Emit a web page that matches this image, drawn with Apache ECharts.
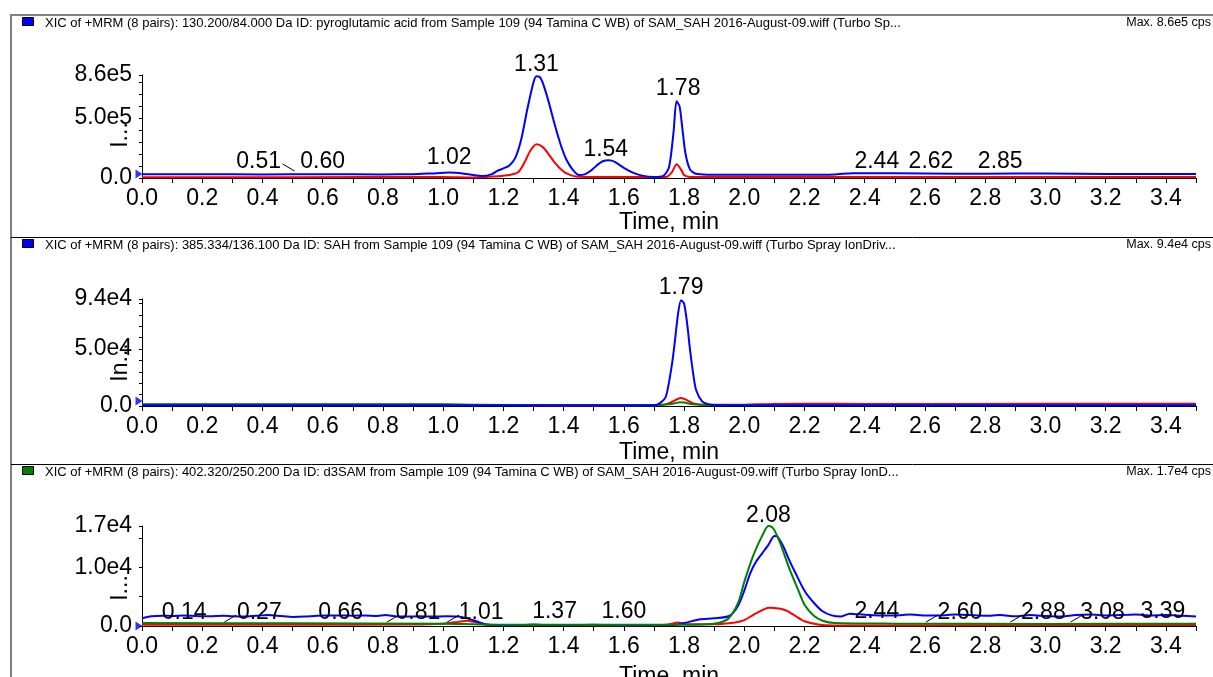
<!DOCTYPE html>
<html><head><meta charset="utf-8">
<script src="https://cdn.jsdelivr.net/npm/echarts@6/dist/echarts.min.js"></script>
<style>html,body{margin:0;padding:0;background:#fff}#c{width:1213px;height:677px}</style>
</head><body><div id="c"></div>
<script>
// ================= DATA =================
const headerTexts = [
  'XIC of +MRM (8 pairs): 130.200/84.000 Da ID: pyroglutamic acid from Sample 109 (94 Tamina C WB) of SAM_SAH 2016-August-09.wiff (Turbo Sp...',
  'XIC of +MRM (8 pairs): 385.334/136.100 Da ID: SAH from Sample 109 (94 Tamina C WB) of SAM_SAH 2016-August-09.wiff (Turbo Spray IonDriv...',
  'XIC of +MRM (8 pairs): 402.320/250.200 Da ID: d3SAM from Sample 109 (94 Tamina C WB) of SAM_SAH 2016-August-09.wiff (Turbo Spray IonD...'
];
const maxTexts = ['Max. 8.6e5 cps', 'Max. 9.4e4 cps', 'Max. 1.7e4 cps'];
const xAxisName = 'Time, min';
const yAxisNames = ['I...', 'In...', 'I...'];
const yMax = [8.6e5, 9.4e4, 1.7e4];
const yTickStep = [1e5, 1e4, 5e3];
const yTickLabelValues = [[0, 5e5, 8.6e5], [0, 5e4, 9.4e4], [0, 1e4, 1.7e4]];
const yTickLabelTexts = [['0.0', '5.0e5', '8.6e5'], ['0.0', '5.0e4', '9.4e4'], ['0.0', '1.0e4', '1.7e4']];
const baselineMarkerLevel = [33000, 4500, 0];

// Panel 1: pyroglutamic acid
const p1BlueT = [0,0.2,0.4,0.6,0.8,0.9,0.96,1.02,1.06,1.10,1.13,1.16,1.18,1.20,1.22,1.24,1.26,1.28,1.30,1.31,1.32,1.33,1.35,1.37,1.39,1.41,1.43,1.45,1.47,1.49,1.51,1.53,1.55,1.57,1.60,1.63,1.66,1.70,1.73,1.75,1.765,1.775,1.785,1.795,1.805,1.82,1.84,1.88,2.0,2.2,2.3,2.36,2.5,2.7,2.9,3.1,3.3,3.5];
const p1BlueV = [32000,32000,30000,31000,30000,32000,38000,45000,40000,25000,17000,30000,60000,80000,105000,170000,330000,580000,800000,850000,845000,800000,640000,450000,280000,150000,70000,25000,30000,60000,105000,140000,148000,135000,85000,45000,20000,8000,15000,90000,380000,640000,600000,400000,200000,70000,35000,28000,27000,27000,30000,40000,40000,36000,37000,36000,33000,34000];
const p1RedT = [0,0.5,1.0,1.1,1.18,1.22,1.25,1.27,1.29,1.31,1.33,1.35,1.37,1.39,1.41,1.44,1.5,1.6,1.74,1.76,1.775,1.79,1.80,1.82,2.0,3.5];
const p1RedV = [7000,7000,9000,5000,15000,25000,50000,130000,230000,282000,260000,200000,130000,75000,38000,12000,8000,8000,8000,50000,115000,70000,25000,9000,8000,8000];
const p1PeakT = [0.51,0.60,1.02,1.31,1.54,1.78,2.44,2.62,2.85];
const p1PeakLabelLevel = [133600,133600,167000,950000,234000,745000,133600,133600,133600];

// Panel 2: SAH
const p2BlueT = [0,0.5,1.0,1.2,1.5,1.70,1.72,1.74,1.76,1.77,1.78,1.79,1.80,1.81,1.82,1.83,1.84,1.86,1.88,1.9,2.0,2.5,3.0,3.5];
const p2BlueV = [700,700,700,600,600,700,2500,8500,37000,58000,81000,93000,90000,73000,49000,29000,14000,4000,1500,900,700,600,600,600];
const p2RedT = [0,0.5,1.0,1.2,1.5,1.72,1.75,1.79,1.83,1.86,2.0,2.1,2.3,2.5,3.0,3.5];
const p2RedV = [1000,1000,1000,800,700,800,2500,7000,2500,1000,1200,1800,1900,1800,1900,2000];
const p2GreenT = [0,0.5,1.0,1.2,1.5,1.7,1.75,1.79,1.83,1.88,2.0,3.5];
const p2GreenV = [1600,1600,1500,800,700,700,1500,3200,1500,800,900,900];
const p2PeakT = [1.79];
const p2PeakLabelLevel = [104000];

// Panel 3: d3SAM
const p3BlueT = [0,0.03,0.07,0.10,0.14,0.18,0.22,0.27,0.30,0.34,0.38,0.42,0.46,0.50,0.54,0.58,0.62,0.66,0.70,0.74,0.78,0.81,0.84,0.88,0.92,0.96,1.01,1.05,1.08,1.11,1.14,1.18,1.25,1.30,1.35,1.40,1.50,1.60,1.70,1.76,1.80,1.85,1.90,1.95,1.98,2.00,2.02,2.04,2.06,2.08,2.10,2.11,2.13,2.15,2.17,2.20,2.23,2.26,2.29,2.32,2.35,2.40,2.45,2.50,2.55,2.60,2.65,2.70,2.75,2.80,2.85,2.90,2.95,3.00,3.05,3.10,3.15,3.20,3.25,3.30,3.35,3.40,3.45,3.50];
const p3BlueV = [1300,1650,1750,1700,1800,1700,1650,1750,1650,1600,1750,1850,1700,1550,1600,1750,1800,1800,1750,1800,1700,1850,1650,1600,1650,1600,1650,1600,1300,800,300,100,100,250,150,100,200,100,150,150,500,1100,1300,1700,3500,6000,9000,11000,12400,13800,15300,15200,13500,11100,9000,6000,4000,2500,1800,1600,2100,1900,1800,1800,1950,1800,1800,1950,1850,1750,1850,1650,1850,1700,1600,1850,1950,1800,1850,1950,1800,1850,1750,1600];
const p3GreenT = [0,0.5,1.0,1.1,1.2,1.5,1.8,1.88,1.92,1.95,1.98,2.00,2.03,2.06,2.08,2.09,2.10,2.12,2.15,2.18,2.20,2.23,2.26,2.30,2.5,3.0,3.5];
const p3GreenV = [500,450,400,300,200,200,200,300,600,1400,4000,7500,12000,15400,17000,16900,16300,14000,9700,6000,3600,1800,900,500,400,350,400];
const p3RedT = [0,0.5,0.9,1.0,1.05,1.08,1.11,1.15,1.3,1.6,1.74,1.78,1.81,1.9,1.97,2.00,2.03,2.06,2.08,2.12,2.14,2.17,2.20,2.25,2.3,3.5];
const p3RedV = [200,200,250,400,700,900,600,200,150,100,200,600,300,300,600,1000,1900,2700,3100,2950,2600,1700,800,200,100,150];
const p3PeakT = [0.14,0.27,0.66,0.81,1.01,1.37,1.60,2.08,2.44,2.60,2.88,3.08,3.39];
const p3PeakLabelLevel = [2200,2200,2200,2200,2200,2400,2400,18700,2400,2200,2200,2200,2400];

// ================= LAYOUT / STYLE =================
const FONT = '"Liberation Sans", Arial, sans-serif';
const BLUE = '#0000ff', RED = '#ff0000', GREEN = '#008000';
const grids = [
  {left: 142, top: 75, width: 1054, height: 103},
  {left: 142, top: 299, width: 1054, height: 107},
  {left: 142, top: 526, width: 1054, height: 100}
];
const separatorsY = [15, 237, 464];
const headerColors = [BLUE, BLUE, GREEN];
const yNamePad = [17, 20, 24];
const xNameGap = [33, 35, 39];
// pixel shift of peak labels that have a leader line
const labelShift = [
  {'0.51': -37},
  {},
  {'0.27': 36, '0.81': 32, '1.01': 35, '2.60': 35, '2.88': 34, '3.08': 33}
];

const zip = (a, b) => a.map((t, i) => [t, b[i]]);

function lineSeries(gi, t, v, color, z) {
  return {
    type: 'line', xAxisIndex: gi, yAxisIndex: gi, data: zip(t, v),
    showSymbol: false, symbol: 'none', smooth: 0.25, z: z,
    lineStyle: {color: color, width: 2}, itemStyle: {color: color},
    animation: false, silent: true
  };
}

function peakLabelSeries(gi, ts, levels) {
  return {
    type: 'custom', xAxisIndex: gi, yAxisIndex: gi, clip: false, z: 10, silent: true,
    data: ts.map((t, i) => [t, levels[i]]),
    renderItem: function (params, api) {
      const t = api.value(0);
      const txt = t.toFixed(2);
      const p = api.coord([t, api.value(1)]);
      const dx = labelShift[gi][txt] || 0;
      const children = [{
        type: 'text',
        style: {text: txt, x: p[0] + dx, y: p[1], font: '23px ' + FONT, fill: '#000',
          textAlign: 'center', textVerticalAlign: 'middle', align: 'center', verticalAlign: 'middle'}
      }];
      if (dx) {
        const s = Math.sign(dx);
        children.push({type: 'line', shape: {x1: p[0] + s, y1: p[1] + 9, x2: p[0] + s * 13, y2: p[1] + 2},
          style: {stroke: '#000', lineWidth: 1}});
      }
      return {type: 'group', children: children};
    }
  };
}

function markerSeries(gi) {
  return {
    type: 'scatter', xAxisIndex: gi, yAxisIndex: gi, data: [[0, baselineMarkerLevel[gi]]],
    symbol: 'triangle', symbolSize: [9, 7], symbolRotate: -90, symbolOffset: [-3, 0],
    itemStyle: {color: BLUE}, clip: false, z: 12, silent: true
  };
}

const xAxes = grids.map((g, i) => ({
  type: 'value', gridIndex: i, min: 0, max: 3.5, interval: 0.1,
  axisLine: {show: true, onZero: false, lineStyle: {color: '#000', width: 1}},
  axisTick: {show: true, length: 5, lineStyle: {color: '#000'}},
  splitLine: {show: false},
  axisLabel: {fontSize: 23, color: '#000', fontFamily: FONT, margin: 9,
    formatter: v => { const k = Math.round(v * 10); return (k % 2 === 0 && k < 35) ? (k / 10).toFixed(1) : ''; }},
  name: xAxisName, nameLocation: 'middle', nameGap: xNameGap[i], nameMoveOverlap: false,
  nameTextStyle: {fontSize: 23, color: '#000', fontFamily: FONT}
}));

const yAxes = grids.map((g, i) => ({
  type: 'value', gridIndex: i, min: 0, max: yMax[i], interval: yTickStep[i],
  axisLine: {show: true, onZero: false, lineStyle: {color: '#000', width: 1}},
  axisTick: {show: true, length: 3, lineStyle: {color: '#000'}},
  splitLine: {show: false},
  axisLabel: {fontSize: 23, color: '#000', fontFamily: FONT, margin: 10, showMaxLabel: true,
    formatter: v => {
      const idx = yTickLabelValues[i].findIndex(x => Math.abs(x - v) < yMax[i] * 1e-6);
      return idx >= 0 ? yTickLabelTexts[i][idx] : '';
    }},
  name: yAxisNames[i], nameLocation: 'middle', nameRotate: 90, nameGap: 10, nameMoveOverlap: false,
  nameTextStyle: {fontSize: 23, color: '#000', fontFamily: FONT, padding: [0, yNamePad[i], 0, 0]}
}));

const series = [
  lineSeries(0, p1RedT, p1RedV, RED, 2),
  lineSeries(0, p1BlueT, p1BlueV, BLUE, 3),
  peakLabelSeries(0, p1PeakT, p1PeakLabelLevel),
  markerSeries(0),
  lineSeries(1, p2RedT, p2RedV, RED, 2),
  lineSeries(1, p2GreenT, p2GreenV, GREEN, 3),
  lineSeries(1, p2BlueT, p2BlueV, BLUE, 4),
  peakLabelSeries(1, p2PeakT, p2PeakLabelLevel),
  markerSeries(1),
  lineSeries(2, p3RedT, p3RedV, RED, 2),
  lineSeries(2, p3BlueT, p3BlueV, BLUE, 3),
  lineSeries(2, p3GreenT, p3GreenV, GREEN, 4),
  peakLabelSeries(2, p3PeakT, p3PeakLabelLevel),
  markerSeries(2)
];

const graphic = [
  {type: 'line', shape: {x1: 10, y1: 15, x2: 1213, y2: 15}, style: {stroke: '#808080', lineWidth: 2}, silent: true},
  {type: 'line', shape: {x1: 11, y1: 15, x2: 11, y2: 677}, style: {stroke: '#808080', lineWidth: 2}, silent: true}
];
separatorsY.forEach((sy, i) => {
  if (i > 0) graphic.push({type: 'line', shape: {x1: 11, y1: sy + 0.5, x2: 1213, y2: sy + 0.5}, style: {stroke: '#000', lineWidth: 1}, silent: true});
  graphic.push({type: 'rect', shape: {x: 22.5, y: sy + 2.5, width: 11, height: 8}, style: {fill: headerColors[i], stroke: '#000', lineWidth: 1}, silent: true});
  graphic.push({type: 'text', style: {text: headerTexts[i], x: 45, y: sy + 8, font: '13px ' + FONT, fill: '#000',
    textAlign: 'left', textVerticalAlign: 'middle', align: 'left', verticalAlign: 'middle'}, silent: true});
  graphic.push({type: 'text', style: {text: maxTexts[i], x: 1211, y: sy + 8, font: '12.5px ' + FONT, fill: '#000',
    textAlign: 'right', textVerticalAlign: 'middle', align: 'right', verticalAlign: 'middle'}, silent: true});
});

const chart = echarts.init(document.getElementById('c'), null, {renderer: 'canvas'});
chart.setOption({
  animation: false,
  backgroundColor: '#fff',
  grid: grids.map(g => Object.assign({containLabel: false, outerBoundsMode: 'none'}, g)),
  xAxis: xAxes,
  yAxis: yAxes,
  series: series,
  graphic: graphic
});
</script>
</body></html>
